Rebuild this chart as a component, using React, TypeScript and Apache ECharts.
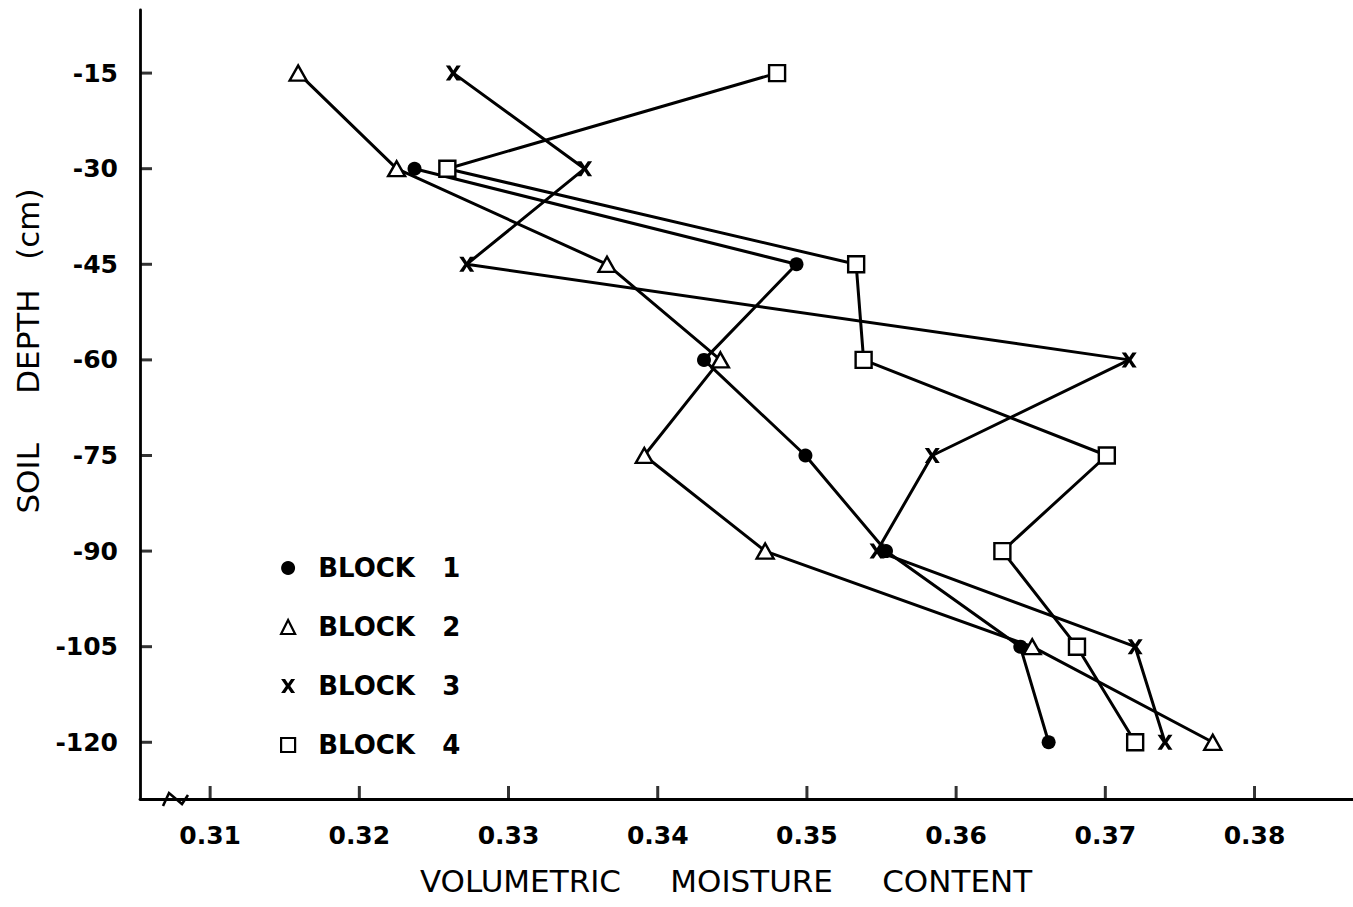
import React, { useEffect, useRef } from "react";
import * as echarts from "echarts";

const depths = [-15, -30, -45, -60, -75, -90, -105, -120];
const block1 = [null, 0.3237, 0.3493, 0.3431, 0.3499, 0.3553, 0.3643, 0.3662];
const block2 = [0.3159, 0.3225, 0.3366, 0.3442, 0.3391, 0.3472, 0.3651, 0.3772];
const block3 = [0.3263, 0.3351, 0.3272, 0.3716, 0.3584, 0.3547, 0.3720, 0.3740];
const block4 = [0.3480, 0.3259, 0.3533, 0.3538, 0.3701, 0.3631, 0.3681, 0.3720];
const xTicks = [0.31, 0.32, 0.33, 0.34, 0.35, 0.36, 0.37, 0.38];
const yTicks = [-15, -30, -45, -60, -75, -90, -105, -120];
const seriesNames = ["BLOCK 1", "BLOCK 2", "BLOCK 3", "BLOCK 4"];

const X_MIN = 0.3053;
const X_MAX = 0.3866;
const Y_MIN = -128.9;
const Y_MAX = -5.1;

const X_PATH =
  "path://M0,0L4,0L7,4.6L10,0L14,0L9.2,7L14,14L10,14L7,9.4L4,14L0,14L4.8,7Z";
const FONT = "DejaVu Sans";

function pairs(xs: (number | null)[]) {
  const out: number[][] = [];
  xs.forEach((v, i) => {
    if (v !== null) out.push([v, depths[i]]);
  });
  return out;
}

export default function App() {
  const ref = useRef<HTMLDivElement>(null);
  useEffect(() => {
    if (!ref.current) return;
    const chart = echarts.init(ref.current, null, { renderer: "svg" });
    const lineStyle = { color: "#000", width: 3 };
    const hollow = { color: "#fff", borderColor: "#000", borderWidth: 2.4 };
    const option = {
      animation: false,
      backgroundColor: "#fff",
      grid: { left: 140, right: 0, top: 10, bottom: 108 },
      xAxis: {
        type: "value",
        min: X_MIN,
        max: X_MAX,
        splitLine: { show: false },
        axisLine: { show: true, lineStyle: { color: "#000", width: 2.8 } },
        axisTick: { show: false },
        axisLabel: {
          customValues: xTicks,
          formatter: (v: number) => v.toFixed(2),
          fontFamily: FONT,
          fontWeight: "bold",
          fontSize: 25,
          color: "#000",
          margin: 24,
        },
      },
      yAxis: {
        type: "value",
        min: Y_MIN,
        max: Y_MAX,
        splitLine: { show: false },
        axisLine: { show: true, lineStyle: { color: "#000", width: 2.8 } },
        axisTick: { show: false },
        axisLabel: {
          customValues: yTicks,
          formatter: (v: number) => String(v),
          fontFamily: FONT,
          fontWeight: "bold",
          fontSize: 25,
          color: "#000",
          margin: 22,
        },
      },
      legend: {
        orient: "vertical",
        left: 275,
        top: 548,
        itemWidth: 14,
        itemHeight: 14,
        itemGap: 29,
        textStyle: {
          fontFamily: FONT,
          fontWeight: "bold",
          fontSize: 26,
          color: "#000",
          lineHeight: 30,
        },
        formatter: (name: string) =>
          "\u00A0\u00A0" + name.replace(" ", "\u00A0\u00A0\u00A0"),
        data: [
          { name: seriesNames[0], icon: "circle", itemStyle: { color: "#000", borderWidth: 0 } },
          { name: seriesNames[1], icon: "triangle", itemStyle: { color: "#fff", borderColor: "#000", borderWidth: 2.2 } },
          { name: seriesNames[2], icon: X_PATH, itemStyle: { color: "#000", borderWidth: 0 } },
          { name: seriesNames[3], icon: "rect", itemStyle: { color: "#fff", borderColor: "#000", borderWidth: 2.2 } },
        ],
      },
      series: [
        {
          name: "xticks",
          type: "scatter",
          silent: true,
          clip: false,
          data: xTicks.map((v) => [v, Y_MIN]),
          symbol: "rect",
          symbolSize: [3, 13],
          symbolOffset: [0, -6.5],
          itemStyle: { color: "#000" },
          z: 5,
        },
        {
          name: "yticks",
          type: "scatter",
          silent: true,
          clip: false,
          data: yTicks.map((v) => [X_MIN, v]),
          symbol: "rect",
          symbolSize: [12, 3],
          symbolOffset: [6, 0],
          itemStyle: { color: "#000" },
          z: 5,
        },
        {
          name: seriesNames[0],
          type: "line",
          data: pairs(block1),
          symbol: "circle",
          symbolSize: 14,
          itemStyle: { color: "#000" },
          lineStyle,
        },
        {
          name: seriesNames[1],
          type: "line",
          data: pairs(block2),
          symbol: "triangle",
          symbolSize: [17, 15],
          itemStyle: hollow,
          lineStyle,
        },
        {
          name: seriesNames[2],
          type: "line",
          data: pairs(block3),
          symbol: X_PATH,
          symbolSize: 15,
          itemStyle: { color: "#000" },
          lineStyle,
        },
        {
          name: seriesNames[3],
          type: "line",
          data: pairs(block4),
          symbol: "rect",
          symbolSize: 16,
          itemStyle: hollow,
          lineStyle,
        },
      ],
      graphic: [
        {
          type: "polyline",
          shape: { points: [[163, 806], [169, 793], [182, 804], [188, 795]] },
          style: { stroke: "#000", lineWidth: 2.6, fill: null },
          z: 100,
        },
        {
          type: "text",
          x: 726,
          y: 881,
          style: {
            text:
              "VOLUMETRIC\u00A0\u00A0\u00A0\u00A0\u00A0MOISTURE\u00A0\u00A0\u00A0\u00A0\u00A0CONTENT",
            fontFamily: FONT,
            fontSize: 31,
            fill: "#000",
            align: "center",
            verticalAlign: "middle",
          },
        },
        {
          type: "text",
          x: 28,
          y: 351,
          rotation: Math.PI / 2,
          style: {
            text: "SOIL\u00A0\u00A0\u00A0\u00A0\u00A0DEPTH\u00A0\u00A0\u00A0(cm)",
            fontFamily: FONT,
            fontSize: 31,
            fill: "#000",
            align: "center",
            verticalAlign: "middle",
          },
        },
      ],
    };
    chart.setOption(option as any);
    return () => chart.dispose();
  }, []);
  return (
    <div
      ref={ref}
      style={{ position: "absolute", left: 0, top: 0, width: 1353, height: 907 }}
    />
  );
}
